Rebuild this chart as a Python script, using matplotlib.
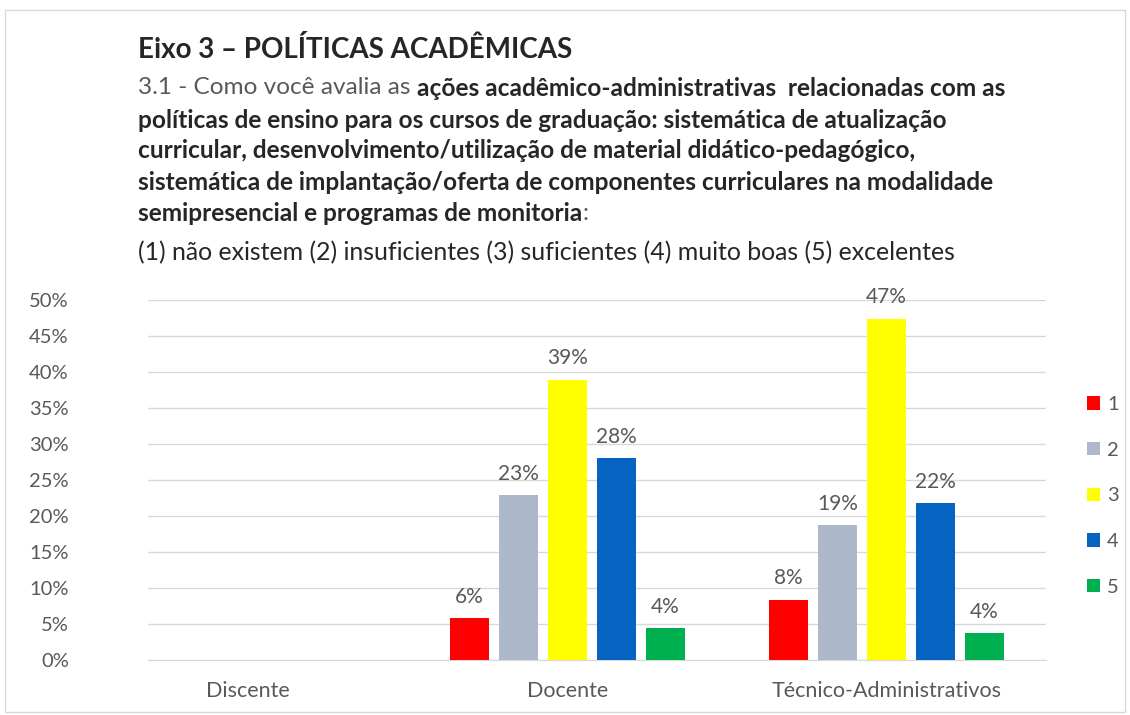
import matplotlib
matplotlib.use("Agg")
import matplotlib.pyplot as plt
import numpy as np
from matplotlib.patches import Rectangle

categories = ["Discente", "Docente", "Técnico-Administrativos"]
series_names = ["1", "2", "3", "4", "5"]
values = {
    "1": [0, 5.8, 8.4],
    "2": [0, 22.9, 18.7],
    "3": [0, 38.9, 47.4],
    "4": [0, 28.0, 21.8],
    "5": [0, 4.4, 3.7],
}
labels = {
    "1": [None, "6%", "8%"],
    "2": [None, "23%", "19%"],
    "3": [None, "39%", "47%"],
    "4": [None, "28%", "22%"],
    "5": [None, "4%", "4%"],
}
colors = ["#FF0000", "#ADB9CA", "#FFFF00", "#0563C1", "#00B050"]
yticks = [0, 5, 10, 15, 20, 25, 30, 35, 40, 45, 50]

FONT = ["Lato", "DejaVu Sans"]
plt.rcParams["font.family"] = FONT
GREY = "#595959"

W, H = 1130, 715
fig = plt.figure(figsize=(W / 100, H / 100), dpi=100)
fig.patch.set_facecolor("white")

# light border around the chart
fig.add_artist(Rectangle((0.004, 0.004), 0.992, 0.982, transform=fig.transFigure,
                         fill=False, edgecolor="#D9D9D9", lw=1))

ax = fig.add_axes([148 / W, 1 - 660 / H, (1046 - 148) / W, (660 - 300) / H])
x = np.arange(len(categories))
pitch = 0.1536
bw = 0.122
for i, name in enumerate(series_names):
    pos = x + (i - 2) * pitch
    ax.bar(pos, values[name], width=bw, color=colors[i], label=name, zorder=3)
    for p, v, lab in zip(pos, values[name], labels[name]):
        if lab:
            ax.text(p, v + 1.6, lab, ha="center", va="bottom", fontsize=15, color=GREY)

ax.set_ylim(0, 50)
ax.set_xlim(-0.313, 2.50)
ax.set_yticks(yticks)
ax.set_yticklabels([f"{t}%" for t in yticks], fontsize=14.5, color=GREY)
ax.set_xticks(x)
ax.set_xticklabels(categories, fontsize=15.5, color=GREY)
ax.tick_params(axis="both", length=0)
ax.tick_params(axis="y", pad=57)
ax.tick_params(axis="x", pad=15)
ax.yaxis.grid(True, color="#D9D9D9", lw=1, zorder=0)
for s in ["top", "right", "left"]:
    ax.spines[s].set_visible(False)
ax.spines["bottom"].set_color("#D9D9D9")

leg = ax.legend(loc="center left", bbox_to_anchor=(1.0457, 0.456), frameon=False,
                borderpad=0, borderaxespad=0,
                handlelength=0.65, handleheight=0.65, handletextpad=0.35,
                labelspacing=1.42, fontsize=14.5, labelcolor=GREY)

# Header text
fig.text(138 / W, 1 - 50 / H, "Eixo 3 – POLÍTICAS ACADÊMICAS", fontsize=20,
         fontweight="bold", color="#262626", va="center", ha="left")

fig.canvas.draw()
renderer = fig.canvas.get_renderer()

def draw_segments(y_px, segments, x_px=138, size=17.6):
    xcur = x_px
    for txt, bold, col in segments:
        t = fig.text(xcur / W, 1 - y_px / H, txt, fontsize=size,
                     fontweight="bold" if bold else "normal", color=col,
                     va="center", ha="left")
        bb = t.get_window_extent(renderer=renderer)
        xcur += bb.width

DARK = "#262626"
draw_segments(88, [("3.1 - Como você avalia as ", False, GREY),
                   ("ações acadêmico-administrativas  relacionadas com as", True, DARK)])
draw_segments(120, [("políticas de ensino para os cursos de graduação: sistemática de atualização", True, DARK)])
draw_segments(151, [("curricular, desenvolvimento/utilização de material didático-pedagógico,", True, DARK)])
draw_segments(183, [("sistemática de implantação/oferta de componentes curriculares na modalidade", True, DARK)])
draw_segments(214, [("semipresencial e programas de monitoria", True, DARK), (":", False, GREY)])
draw_segments(253, [("(1) não existem (2) insuficientes (3) suficientes (4) muito boas (5) excelentes", False, DARK)], size=17.95)

fig.savefig("out.png", dpi=100)
